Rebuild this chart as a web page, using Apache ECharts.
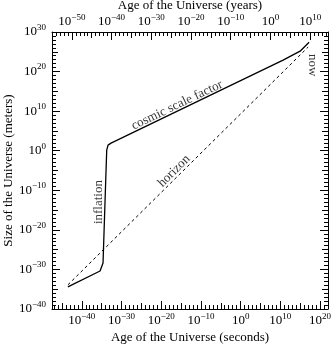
<!DOCTYPE html>
<html><head><meta charset="utf-8">
<script src="https://cdn.jsdelivr.net/npm/echarts@6/dist/echarts.min.js"></script>
<style>html,body{margin:0;padding:0;background:#fff}#c{width:332px;height:344px}</style>
</head><body><div id="c"></div>
<script>
// Values are log10 exponents: age in seconds, size in metres
const scaleTimeExp = [-43.5, -35.4, -34.65, -33.97, -33.72, -33.39, -32.64, 10.69, 14.97, 17.24];
const scaleSizeExp = [-34.4, -30.4, -28.38, -7.42, 0.15, 1.41, 1.92, 22.88, 25.15, 27.42];
const horizonTimeExp = [-43.5, 17.0];
const horizonSizeExp = [-33.9, 26.2];
const secTickExps = [-40, -30, -20, -10, 0, 10, 20];
const yearTickExps = [-50, -40, -30, -20, -10, 0, 10];
const sizeTickExps = [-40, -30, -20, -10, 0, 10, 20, 30];
const annoText = ['cosmic scale factor', 'horizon', 'inflation', 'now'];
const annoTimeExp = [-16.0, -16.77, -35.66, 17.99];
const annoSizeExp = [11.5, -5.15, -12.98, 21.6];
const annoRotate = [25.6, 45, 90, -90];
const secondsPerYearExp = 7.5;
const secMin = -47.5, secMax = 22;
const sizeMin = -40, sizeMax = 30;

const FONT = 'Liberation Serif';
function expLabel(v) {
  const n = Math.round(v);
  return '{b|10}{s|' + (n < 0 ? '\u2212' : '') + Math.abs(n) + '}';
}
const rich = {
  b: { fontSize: 13, fontFamily: FONT, color: '#000', lineHeight: 18 },
  s: { fontSize: 9, fontFamily: FONT, color: '#000', lineHeight: 8, verticalAlign: 'top' }
};
function range(a, b, step) { const r = []; for (let v = a; v <= b + 1e-9; v += step) r.push(v); return r; }
const line = { show: true, onZero: false, lineStyle: { color: '#000', width: 1 } };
const noLine = { show: false, onZero: false };
function tickAxisX(pos, min, max, vals, len) {
  return { type: 'value', position: pos, min, max, axisLine: noLine,
    axisTick: { show: true, inside: true, length: len, customValues: vals, lineStyle: { color: '#000' } },
    axisLabel: { show: false }, splitLine: { show: false } };
}
function tickAxisY(pos, vals, len) {
  return { type: 'value', position: pos, min: sizeMin, max: sizeMax, axisLine: noLine,
    axisTick: { show: true, inside: true, length: len, customValues: vals, lineStyle: { color: '#000' } },
    axisLabel: { show: false }, splitLine: { show: false } };
}
const yrMin = secMin - secondsPerYearExp, yrMax = secMax - secondsPerYearExp;
const nameStyle = { fontFamily: FONT, fontSize: 13, color: '#000' };

const option = {
  animation: false,
  backgroundColor: '#fff',
  grid: { left: 52, top: 32, width: 276, height: 277, containLabel: false, outerBoundsMode: 'none' },
  xAxis: [
    { type: 'value', position: 'bottom', min: secMin, max: secMax, axisLine: line,
      axisTick: { show: true, inside: true, length: 8, customValues: secTickExps, lineStyle: { color: '#000' } },
      axisLabel: { show: true, customValues: secTickExps, formatter: expLabel, rich, margin: 3 },
      splitLine: { show: false },
      name: 'Age of the Universe (seconds)', nameLocation: 'middle', nameGap: 22, nameMoveOverlap: false, nameTextStyle: nameStyle },
    tickAxisX('bottom', secMin, secMax, range(-45, 15, 10), 6),
    tickAxisX('bottom', secMin, secMax, range(-47, 21, 1), 4),
    { type: 'value', position: 'top', min: yrMin, max: yrMax, axisLine: line,
      axisTick: { show: true, inside: true, length: 8, customValues: yearTickExps, lineStyle: { color: '#000' } },
      axisLabel: { show: true, customValues: yearTickExps, formatter: expLabel, rich, margin: 1 },
      splitLine: { show: false },
      name: 'Age of the Universe (years)', nameLocation: 'middle', nameGap: 20, nameMoveOverlap: false, nameTextStyle: nameStyle },
    tickAxisX('top', yrMin, yrMax, range(-55, 5, 10), 6),
    tickAxisX('top', yrMin, yrMax, range(-55, 14, 1), 4)
  ],
  yAxis: [
    { type: 'value', position: 'left', min: sizeMin, max: sizeMax, axisLine: line,
      axisTick: { show: true, inside: true, length: 8, customValues: sizeTickExps, lineStyle: { color: '#000' } },
      axisLabel: { show: true, customValues: sizeTickExps, formatter: expLabel, rich, margin: 6 },
      splitLine: { show: false },
      name: 'Size of the Universe (meters)', nameLocation: 'middle', nameGap: 37, nameMoveOverlap: false, nameTextStyle: nameStyle },
    tickAxisY('left', range(-35, 25, 10), 6),
    tickAxisY('left', range(-40, 30, 1), 4),
    { type: 'value', position: 'right', min: sizeMin, max: sizeMax, axisLine: line,
      axisTick: { show: true, inside: true, length: 8, customValues: sizeTickExps, lineStyle: { color: '#000' } },
      axisLabel: { show: false }, splitLine: { show: false } },
    tickAxisY('right', range(-35, 25, 10), 6),
    tickAxisY('right', range(-40, 30, 1), 4)
  ],
  series: [
    { type: 'line', name: 'cosmic scale factor', xAxisIndex: 0, yAxisIndex: 0, showSymbol: false, symbol: 'none',
      data: scaleTimeExp.map((t, i) => [t, scaleSizeExp[i]]),
      lineStyle: { color: '#000', width: 1.3 } },
    { type: 'line', name: 'horizon', xAxisIndex: 0, yAxisIndex: 0, showSymbol: false, symbol: 'none',
      data: horizonTimeExp.map((t, i) => [t, horizonSizeExp[i]]),
      lineStyle: { color: '#000', width: 1, type: [3, 3] } },
    { type: 'scatter', xAxisIndex: 0, yAxisIndex: 0, symbolSize: 0, silent: true,
      data: annoText.map((txt, i) => ({ value: [annoTimeExp[i], annoSizeExp[i]],
        label: { show: true, position: 'inside', formatter: txt, rotate: annoRotate[i],
          fontFamily: FONT, fontSize: 13, color: '#000', textBorderWidth: 0, textShadowBlur: 0,
          align: 'center', verticalAlign: 'middle' } })) }
  ]
};
const chart = echarts.init(document.getElementById('c'), null, { renderer: 'canvas' });
chart.setOption(option);
</script>
</body></html>
